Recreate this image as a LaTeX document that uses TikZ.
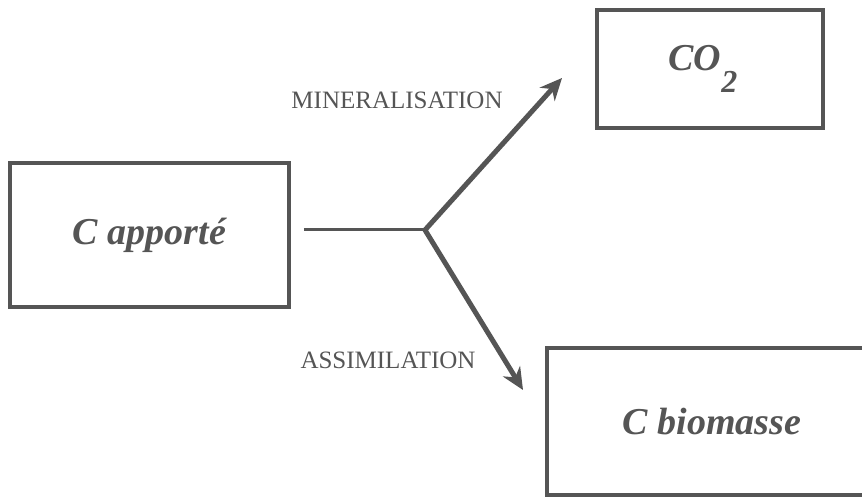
\documentclass[tikz,border=0pt]{standalone}
\usepackage{fontspec}
\setmainfont{Liberation Serif}
\usetikzlibrary{
    positioning,
    arrows.meta
}
\definecolor{ink}{HTML}{555555}
\newcommand\poolfont{\fontsize{38}{40}\selectfont\bfseries\itshape}
\tikzset{
    >=Stealth,
    pool/.style={
        draw=ink,
        line width=3.5pt,
        text=ink,
        inner sep=0pt,
        font=\poolfont
    },
    process/.style={
        text=ink,
        inner sep=0pt,
        font=\fontsize{25}{27}\selectfont
    },
    flow/.style={
        draw=ink,
        line width=5pt
    }
}

\begin{document}
\begin{tikzpicture}[
    x=1pt, y=1pt,
    >={Stealth[length=22pt, width=20pt]}
]
    \useasboundingbox (0,0) rectangle (862,497);

    % Compartiments
    \node[pool, minimum width=279pt, minimum height=144pt] (apporte)  at (149.5,262) {C apporté};
    \node[pool, minimum width=226pt, minimum height=118pt] (co2)      at (710,428)
        {\hspace*{-14pt}CO\raisebox{-22pt}{\fontsize{32}{32}\selectfont 2}};
    \node[pool, minimum width=330pt, minimum height=147pt] (biomasse) at (712,75.5) {C biomasse};

    % Embranchement
    \coordinate (fork)  at (425,267);
    \coordinate (toco2) at (562,419);
    \coordinate (tobio) at (523,107);

    % Flux
    \draw[flow, line width=3pt, shorten <=13pt] (apporte.east |- fork) -- (fork);
    \draw[flow, ->] (fork) -- (toco2);
    \draw[flow, ->] (fork) -- (tobio);

    % Processus
    \node[process] (mineral) at (397,397) {MINERALISATION};
    \node[process] (assim)   at (388,137) {ASSIMILATION};

\end{tikzpicture}
\end{document}
